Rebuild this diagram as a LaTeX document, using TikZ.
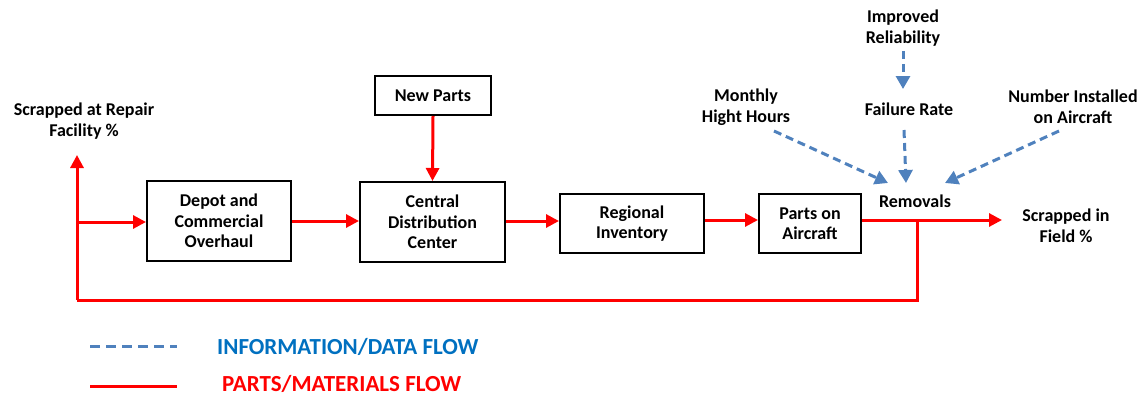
\documentclass[tikz,border=0pt]{standalone}
\usepackage{fontspec}
\setmainfont{Carlito}
\usetikzlibrary{arrows.meta}
\definecolor{flowred}{RGB}{255,0,0}
\definecolor{infoblue}{RGB}{79,129,189}
\definecolor{legblue}{RGB}{0,112,192}
\tikzset{
  box/.style={draw=black, line width=2pt, align=center, font=\fontsize{18}{20.5}\selectfont\bfseries, inner sep=0pt},
  lbl/.style={align=center, font=\fontsize{18}{21.5}\selectfont\bfseries, inner sep=0pt},
  parts/.style={draw=flowred, line width=3pt, -{Triangle[length=13pt,width=13pt]}},
  partsline/.style={draw=flowred, line width=3pt},
  info/.style={draw=infoblue, line width=3pt, dash pattern=on 8pt off 5pt, -{Triangle[length=13pt,width=14pt]}},
  legtext/.style={anchor=base west, font=\fontsize{23}{26}\selectfont\bfseries, inner sep=0pt},
}
\begin{document}
\begin{tikzpicture}[x=1pt,y=-1pt]
\useasboundingbox (0,0) rectangle (1145,396);
% boxes
\node[box, minimum width=144pt, minimum height=80pt] (depot) at (219,221) {Depot and\\Commercial\\Overhaul};
\node[box, minimum width=145pt, minimum height=80pt] (cdc) at (432.5,222) {Central\\Distribution\\Center};
\node[box, minimum width=116pt, minimum height=39pt] (new) at (433,95.5) {New Parts};
\node[box, minimum width=144pt, minimum height=59pt] (reg) at (632,223.5) {Regional\\Inventory};
\node[box, minimum width=102pt, minimum height=59pt] (poa) at (810,223.5) {Parts on\\Aircraft};
% labels
\node[lbl] (repair) at (84,121) {Scrapped at Repair\\Facility \%};
\node[lbl] (field) at (1066,226) {Scrapped in\\Field \%};
\node[lbl] (rem) at (915,201) {Removals};
\node[lbl] (impr) at (903,28) {Improved\\Reliability};
\node[lbl] (fail) at (909,109) {Failure Rate};
\node[lbl] (mfh) at (746,107) {Monthly\\Hight Hours};
\node[lbl] (nia) at (1073,107) {Number Installed\\on Aircraft};
% coordinates
\coordinate (j) at (917,220);
\coordinate (bl) at (77,300);
\coordinate (br) at (77,222);
\coordinate (rtip) at (77,155);
\coordinate (ftip) at (1002,220);
\coordinate (m1) at (774,131);
\coordinate (m2) at (888,183);
\coordinate (n1) at (1059,131);
\coordinate (n2) at (945,183);
\coordinate (f1) at (904,130);
\coordinate (f2) at (906,183);
\coordinate (i1) at (903,51);
\coordinate (i2) at (903,89);
% parts flow
\draw[parts] (new.south) -- (cdc.north);
\draw[parts] (depot.east |- 0,221) -- (cdc.west |- 0,221);
\draw[parts] (cdc.east |- 0,221) -- (reg.west |- 0,221);
\draw[parts] (reg.east |- 0,220) -- (poa.west |- 0,220);
\draw[parts] (poa.east |- 0,220) -- (ftip);
\draw[partsline] (j) -- (j |- bl) -- (bl);
\draw[parts] (bl) -- (rtip);
\draw[parts] (br) -- (depot.west |- br);
% info flow
\draw[info] (i1) -- (i2);
\draw[info] (f1) -- (f2);
\draw[info] (m1) -- (m2);
\draw[info] (n1) -- (n2);
% legend
\coordinate (la) at (90,346);
\coordinate (lb) at (177,346);
\coordinate (lc) at (90,386);
\coordinate (ld) at (177,386);
\draw[draw=infoblue, line width=3pt, dash pattern=on 10pt off 6pt] (la) -- (lb);
\draw[partsline] (lc) -- (ld);
\node[legtext, text=legblue] (legi) at (217,354) {INFORMATION/DATA FLOW};
\node[legtext, text=flowred] (legp) at (222,391) {PARTS/MATERIALS FLOW};
\end{tikzpicture}
\end{document}
